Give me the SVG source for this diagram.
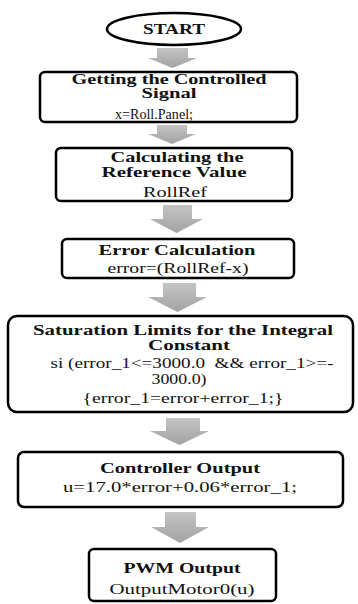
<svg xmlns="http://www.w3.org/2000/svg" width="358" height="604" viewBox="0 0 358 604">
<defs>
<linearGradient id="ag" x1="0" y1="0" x2="0" y2="1">
<stop offset="0" stop-color="#c4c4c4"/>
<stop offset="1" stop-color="#a2a2a2"/>
</linearGradient>
</defs>
<style>
.box{fill:#fff;stroke:#000;stroke-width:2.5}
.h{font-family:"Liberation Serif","DejaVu Serif",serif;font-weight:bold;font-size:14px;text-anchor:middle;fill:#111}
.t{font-family:"Liberation Serif","DejaVu Serif",serif;font-size:15px;text-anchor:middle;fill:#111}
.arr{fill:url(#ag);stroke:none}
</style>
<rect width="358" height="604" fill="#fff"/>
<g id="connectors">
<polygon class="arr" points="157,48 188,48 188,58 197,58 172.5,68 148,58 157,58"/>
<polygon class="arr" points="157,125 187,125 187,134 196,134 172,144 148,134 157,134"/>
<polygon class="arr" points="163,205 192,205 192,219 203,219 176.5,233 150,219 163,219"/>
<polygon class="arr" points="163,283 196,283 196,297 207,297 177.5,312 148,297 163,297"/>
<polygon class="arr" points="166,418 200,418 200,431 209,431 179.5,445 150,431 166,431"/>
<polygon class="arr" points="165,512 196,512 196,527 209,527 180,543 151,527 165,527"/>
</g>
<g id="start">
<ellipse class="box" cx="174" cy="29" rx="67" ry="16"/>
<text class="h" x="174" y="34" textLength="62" lengthAdjust="spacingAndGlyphs">START</text>
</g>
<g id="n1">
<rect class="box" x="40" y="72" width="257" height="50" rx="5"/>
<text class="h" x="169" y="84" font-size="12.5" textLength="195" lengthAdjust="spacingAndGlyphs">Getting the Controlled</text>
<text class="h" x="169" y="98" font-size="12.5" textLength="55" lengthAdjust="spacingAndGlyphs">Signal</text>
<text class="t" x="154" y="119" textLength="78" lengthAdjust="spacingAndGlyphs">x=Roll.Panel;</text>
</g>
<g id="n2">
<rect class="box" x="56" y="148" width="236" height="53" rx="5"/>
<text class="h" x="177" y="162" textLength="133" lengthAdjust="spacingAndGlyphs">Calculating the</text>
<text class="h" x="174" y="177" textLength="145" lengthAdjust="spacingAndGlyphs">Reference Value</text>
<text class="t" x="175" y="197" textLength="64" lengthAdjust="spacingAndGlyphs">RollRef</text>
</g>
<g id="n3">
<rect class="box" x="62" y="239" width="232" height="39" rx="5"/>
<text class="h" x="177" y="255" textLength="157" lengthAdjust="spacingAndGlyphs">Error Calculation</text>
<text class="t" x="178" y="273" textLength="141" lengthAdjust="spacingAndGlyphs">error=(RollRef-x)</text>
</g>
<g id="n4">
<rect class="box" x="8" y="316" width="345" height="96" rx="9"/>
<text class="h" x="183" y="335" textLength="300" lengthAdjust="spacingAndGlyphs">Saturation Limits for the Integral</text>
<text class="h" x="189" y="350" textLength="82" lengthAdjust="spacingAndGlyphs">Constant</text>
<text class="t" x="192" y="368" textLength="283" lengthAdjust="spacingAndGlyphs" xml:space="preserve">si (error_1&lt;=3000.0  &amp;&amp; error_1&gt;=-</text>
<text class="t" x="179" y="384" textLength="55" lengthAdjust="spacingAndGlyphs">3000.0)</text>
<text class="t" x="183" y="403" textLength="201" lengthAdjust="spacingAndGlyphs">{error_1=error+error_1;}</text>
</g>
<g id="n5">
<rect class="box" x="18" y="452" width="325" height="55" rx="6"/>
<text class="h" x="180" y="473" textLength="160" lengthAdjust="spacingAndGlyphs">Controller Output</text>
<text class="t" x="180" y="492" textLength="234" lengthAdjust="spacingAndGlyphs">u=17.0*error+0.06*error_1;</text>
</g>
<g id="n6">
<rect class="box" x="89" y="549" width="187" height="52" rx="5"/>
<text class="h" x="182" y="573" textLength="117" lengthAdjust="spacingAndGlyphs">PWM Output</text>
<text class="t" x="182" y="594" textLength="145" lengthAdjust="spacingAndGlyphs">OutputMotor0(u)</text>
</g>
</svg>
